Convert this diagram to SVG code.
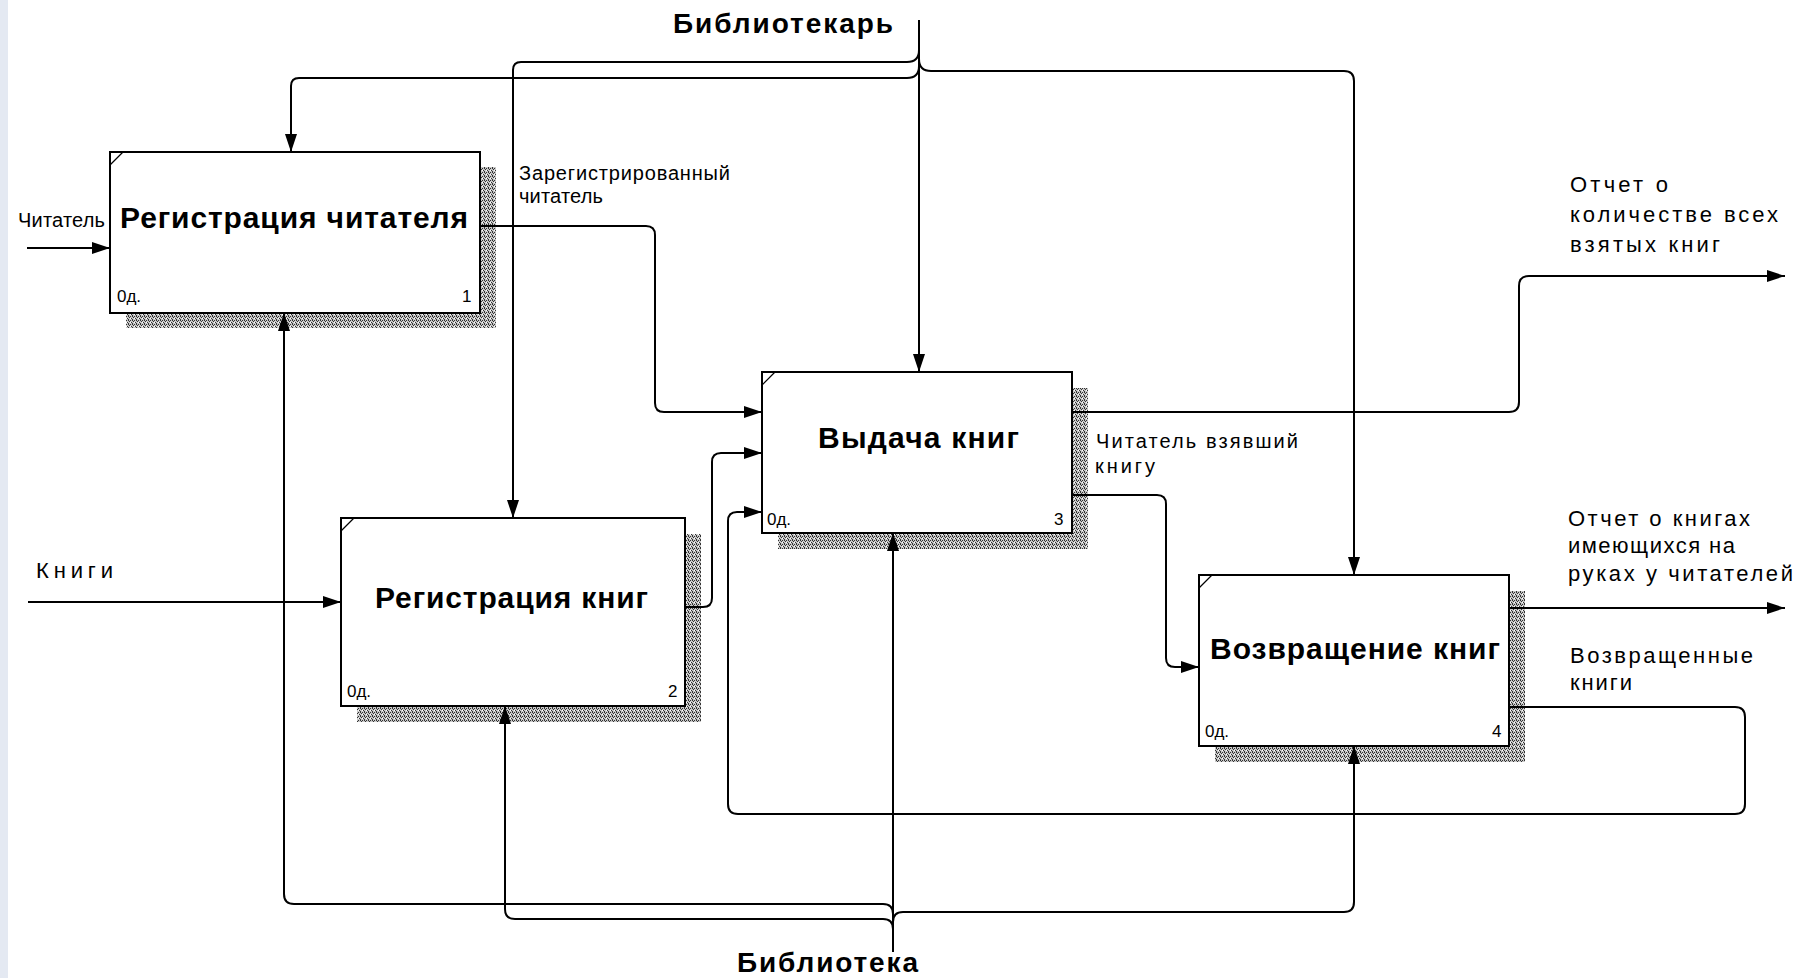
<svg xmlns="http://www.w3.org/2000/svg" width="1796" height="978" viewBox="0 0 1796 978">
<defs>
<style>
.box{fill:#fff;stroke:#000;stroke-width:2}
.shadow{fill:url(#hatch);stroke:none}
.corner{stroke:#000;stroke-width:1.2;fill:none}
.conn{fill:none;stroke:#000;stroke-width:2;marker-end:url(#arr)}
text{font-family:"Liberation Sans",Arial,sans-serif;fill:#000}
.title{font-size:30px;font-weight:bold}
.tunnel{font-size:28px;font-weight:bold}
.lbl{font-size:20px}
.big{font-size:22px}
.num{font-size:17px}
</style>
<pattern id="hatch" width="4" height="4" patternUnits="userSpaceOnUse">
<rect width="4" height="4" fill="#c8c8c8"/>
<rect x="0" y="0" width="1" height="1" fill="#333"/>
<rect x="2" y="0" width="1" height="1" fill="#333"/>
<rect x="1" y="1" width="1" height="1" fill="#333"/>
<rect x="3" y="2" width="1" height="1" fill="#333"/>
<rect x="0" y="3" width="1" height="1" fill="#333"/>
<rect x="2" y="2" width="1" height="1" fill="#fff"/>
</pattern>
<marker id="arr" markerUnits="userSpaceOnUse" markerWidth="18" markerHeight="12" refX="18" refY="6" orient="auto">
<path d="M0,0 L18,6 L0,12 z" fill="#000"/>
</marker>
</defs>
<rect x="0" y="0" width="1796" height="978" fill="#fff"/>
<rect x="0" y="0" width="8" height="978" fill="#e4e9f2"/>

<g id="box1">
<rect class="shadow" x="126" y="167" width="370" height="161"/>
<rect class="box" x="110" y="152" width="370" height="161"/>
<line class="corner" x1="110" y1="165" x2="123" y2="152"/>
<text class="title" x="120" y="228" textLength="348">Регистрация читателя</text>
<text class="num" x="117" y="302">0д.</text>
<text class="num" x="462" y="302">1</text>
</g>

<g id="box2">
<rect class="shadow" x="357" y="534" width="344" height="188"/>
<rect class="box" x="341" y="518" width="344" height="188"/>
<line class="corner" x1="341" y1="531" x2="354" y2="518"/>
<text class="title" x="375" y="608" textLength="273">Регистрация книг</text>
<text class="num" x="347" y="697">0д.</text>
<text class="num" x="668" y="697">2</text>
</g>

<g id="box3">
<rect class="shadow" x="778" y="388" width="310" height="161"/>
<rect class="box" x="762" y="372" width="310" height="161"/>
<line class="corner" x1="762" y1="385" x2="775" y2="372"/>
<text class="title" x="818" y="448" textLength="201">Выдача книг</text>
<text class="num" x="767" y="525">0д.</text>
<text class="num" x="1054" y="525">3</text>
</g>

<g id="box4">
<rect class="shadow" x="1215" y="591" width="310" height="171"/>
<rect class="box" x="1199" y="575" width="310" height="171"/>
<line class="corner" x1="1199" y1="588" x2="1212" y2="575"/>
<text class="title" x="1210" y="659" textLength="290">Возвращение книг</text>
<text class="num" x="1205" y="737">0д.</text>
<text class="num" x="1492" y="737">4</text>
</g>

<g id="connectors">
<path class="conn" d="M27,248 H110"/>
<path class="conn" d="M28,602 H341"/>
<path class="conn" d="M919,20 V372"/>
<path class="conn" d="M919,66 Q919,78 907,78 H299 Q291,78 291,86 V152"/>
<path class="conn" d="M919,50 Q919,62 907,62 H521 Q513,62 513,70 V518"/>
<path class="conn" d="M919,59 Q919,71 931,71 H1344 Q1354,71 1354,81 V575"/>
<path class="conn" d="M893,952 V533"/>
<path class="conn" d="M893,914 Q893,904 883,904 H294 Q284,904 284,894 V313"/>
<path class="conn" d="M893,929 Q893,919 883,919 H515 Q505,919 505,909 V706"/>
<path class="conn" d="M893,922 Q893,912 903,912 H1344 Q1354,912 1354,902 V746"/>
<path class="conn" d="M480,226 H646 Q655,226 655,235 V403 Q655,412 664,412 H762"/>
<path class="conn" d="M685,607 H703 Q712,607 712,598 V462 Q712,453 721,453 H762"/>
<path class="conn" d="M1072,412 H1509 Q1519,412 1519,402 V286 Q1519,276 1529,276 H1785"/>
<path class="conn" d="M1072,495 H1157 Q1166,495 1166,504 V658 Q1166,667 1175,667 H1199"/>
<path class="conn" d="M1509,608 H1785"/>
<path class="conn" d="M1509,707 H1735 Q1745,707 1745,717 V804 Q1745,814 1735,814 H738 Q728,814 728,804 V521 Q728,512 737,512 H762"/>
</g>

<g id="labels">
<text class="tunnel" x="673" y="33" textLength="220">Библиотекарь</text>
<text class="tunnel" x="737" y="972" textLength="181">Библиотека</text>
<text class="lbl" x="18" y="227" textLength="87">Читатель</text>
<text class="big" x="36" y="578" font-size="26" textLength="77">Книги</text>
<text class="lbl" x="519" y="180" textLength="211">Зарегистрированный</text>
<text class="lbl" x="519" y="203" textLength="84">читатель</text>
<text class="lbl" x="1096" y="448" textLength="202">Читатель взявший</text>
<text class="lbl" x="1095" y="473" textLength="60">книгу</text>
<text class="big" x="1570" y="192" textLength="98">Отчет о</text>
<text class="big" x="1570" y="222" textLength="208">количестве всех</text>
<text class="big" x="1570" y="252" textLength="150">взятых книг</text>
<text class="big" x="1568" y="526" textLength="182">Отчет о книгах</text>
<text class="big" x="1568" y="553" textLength="167">имеющихся на</text>
<text class="big" x="1568" y="581" textLength="225">руках у читателей</text>
<text class="big" x="1570" y="663" textLength="183">Возвращенные</text>
<text class="big" x="1570" y="690" textLength="62">книги</text>
</g>
</svg>
